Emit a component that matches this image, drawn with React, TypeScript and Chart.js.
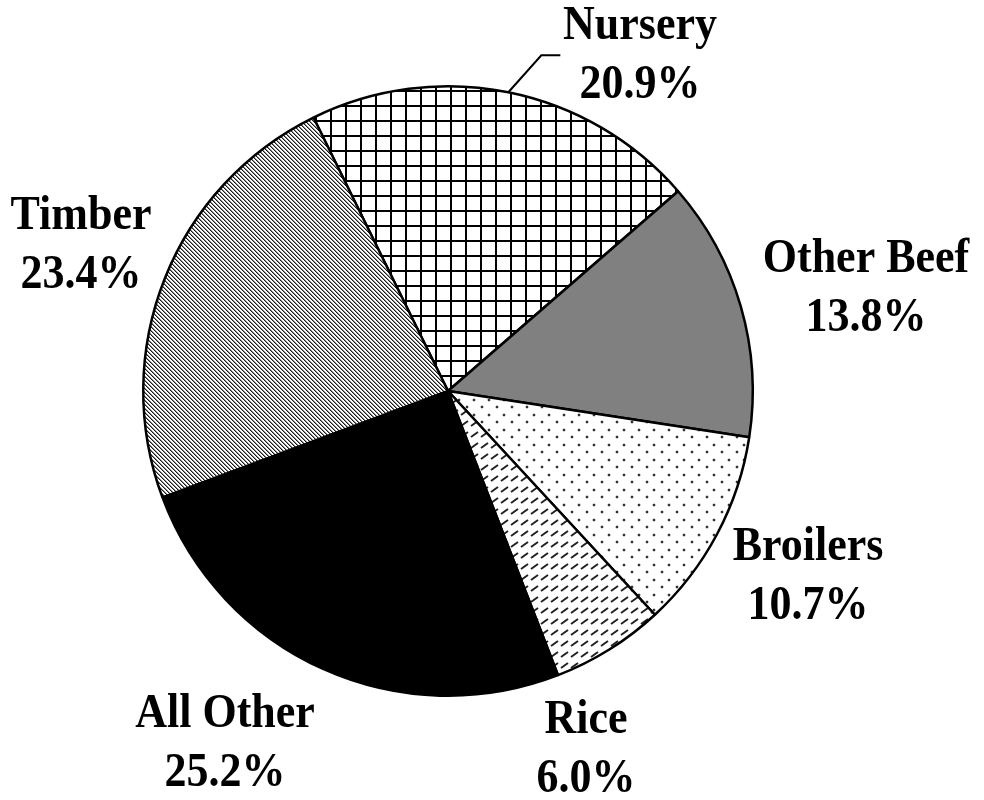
import React, { useEffect, useRef } from "react";
import { Chart, registerables } from "chart.js";

Chart.register(...registerables);

const categories = ["Nursery", "Other Beef", "Broilers", "Rice", "All Other", "Timber"];
const shares = [20.9, 13.8, 10.7, 6.0, 25.2, 23.4];
const shareLabels = ["20.9%", "13.8%", "10.7%", "6.0%", "25.2%", "23.4%"];

// label anchor (center x, baseline of first line) per category
const labelPos: Record<string, [number, number]> = {
  Nursery: [640, 39],
  "Other Beef": [866, 272],
  Broilers: [808, 560],
  Rice: [586, 733],
  "All Other": [225, 727],
  Timber: [81, 229],
};

function makeTile(w: number, h: number, draw: (c: CanvasRenderingContext2D) => void) {
  const cv = document.createElement("canvas");
  cv.width = w;
  cv.height = h;
  const c = cv.getContext("2d")!;
  c.fillStyle = "#ffffff";
  c.fillRect(0, 0, w, h);
  draw(c);
  return cv;
}

function buildFills(ctx: CanvasRenderingContext2D) {
  const grid = makeTile(15, 15, (c) => {
    c.fillStyle = "#000";
    c.fillRect(0, 0, 2, 15);
    c.fillRect(0, 0, 15, 2);
  });
  const diag = makeTile(4, 4, (c) => {
    for (let i = 0; i < 4; i++) {
      c.fillStyle = "#1a1a1a";
      c.fillRect(i, i, 1, 1);
      c.fillStyle = "#8a8a8a";
      c.fillRect((i + 1) % 4, i, 1, 1);
    }
  });
  const dots = makeTile(15, 15, (c) => {
    c.fillStyle = "#d0d0d0";
    c.fillRect(0, 1, 4, 2);
    c.fillRect(1, 0, 2, 4);
    c.fillRect(7, 9, 4, 2);
    c.fillRect(8, 8, 2, 4);
    c.fillStyle = "#333";
    c.fillRect(1, 1, 2, 2);
    c.fillRect(8, 9, 2, 2);
  });
  const dashes = makeTile(10, 11, (c) => {
    c.strokeStyle = "#222";
    c.lineWidth = 2;
    c.beginPath();
    c.moveTo(1, 8);
    c.lineTo(8, 3);
    c.stroke();
  });
  return [
    ctx.createPattern(grid, "repeat")!,
    "#808080",
    ctx.createPattern(dots, "repeat")!,
    ctx.createPattern(dashes, "repeat")!,
    "#000000",
    ctx.createPattern(diag, "repeat")!,
  ];
}

function stretchedText(ctx: CanvasRenderingContext2D, text: string, x: number, y: number) {
  ctx.save();
  ctx.translate(x, y);
  ctx.scale(1, 1.1);
  ctx.fillText(text, 0, 0);
  ctx.restore();
}

const labelPlugin = {
  id: "pieLabels",
  afterDraw(chart: any) {
    const ctx = chart.ctx as CanvasRenderingContext2D;
    ctx.save();
    ctx.fillStyle = "#000";
    ctx.font = "bold 44px 'Liberation Serif', 'Times New Roman', serif";
    ctx.textAlign = "center";
    ctx.textBaseline = "alphabetic";
    categories.forEach((cat, i) => {
      const [x, y] = labelPos[cat];
      stretchedText(ctx, cat, x, y);
      stretchedText(ctx, shareLabels[i], x, y + 59);
    });
    // leader line for Nursery
    const arc = chart.getDatasetMeta(0).data[0];
    const mid = (arc.startAngle + arc.endAngle) / 2;
    const sx = arc.x + Math.cos(mid) * arc.outerRadius;
    const sy = arc.y + Math.sin(mid) * arc.outerRadius;
    ctx.strokeStyle = "#000";
    ctx.lineWidth = 2;
    ctx.beginPath();
    ctx.moveTo(sx, sy);
    ctx.lineTo(sx + 33, sy - 37);
    ctx.lineTo(sx + 52, sy - 37);
    ctx.stroke();
    ctx.restore();
  },
};

export default function App() {
  const ref = useRef<HTMLCanvasElement>(null);
  useEffect(() => {
    const canvas = ref.current!;
    const ctx = canvas.getContext("2d")!;
    const fills = buildFills(ctx);
    const chart = new Chart(canvas, {
      type: "pie",
      data: {
        labels: categories,
        datasets: [
          {
            data: shares,
            backgroundColor: fills as any,
            hoverBackgroundColor: fills as any,
            borderColor: "#000",
            hoverBorderColor: "#000",
            borderWidth: 2.5,
            hoverBorderWidth: 2.5,
          },
        ],
      },
      options: {
        responsive: false,
        animation: false,
        rotation: -26.2,
        layout: { padding: { left: 142, right: 230, top: 85, bottom: 103 } },
        plugins: {
          legend: { display: false },
          tooltip: { enabled: false },
          title: { display: false },
        },
        events: [],
      },
      plugins: [labelPlugin],
    });
    return () => chart.destroy();
  }, []);
  return (
    <div style={{ position: "absolute", left: 0, top: 0, width: 984, height: 800, background: "#fff" }}>
      <canvas ref={ref} width={984} height={800} style={{ display: "block" }} />
    </div>
  );
}
